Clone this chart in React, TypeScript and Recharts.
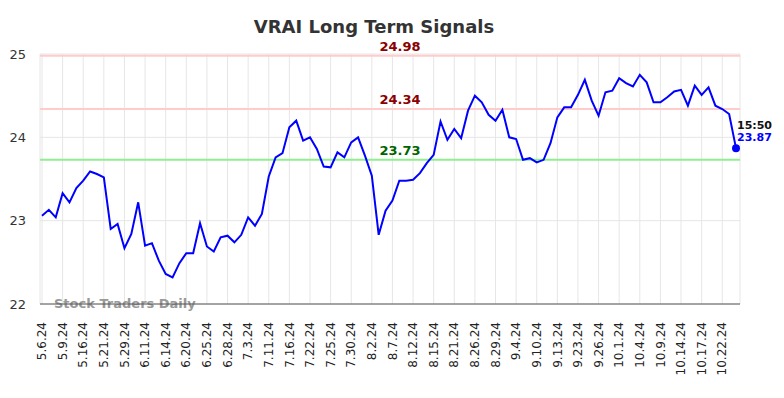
import { LineChart, Line, XAxis, YAxis, CartesianGrid, ReferenceLine } from "recharts"

const TICK_LABELS = [
  "5.6.24", "5.9.24", "5.16.24", "5.21.24", "5.29.24", "6.11.24", "6.14.24", "6.20.24",
  "6.25.24", "6.28.24", "7.3.24", "7.11.24", "7.16.24", "7.22.24", "7.25.24", "7.30.24",
  "8.2.24", "8.7.24", "8.12.24", "8.15.24", "8.21.24", "8.26.24", "8.29.24", "9.4.24",
  "9.10.24", "9.13.24", "9.23.24", "9.26.24", "10.1.24", "10.4.24", "10.9.24", "10.14.24",
  "10.17.24", "10.22.24",
]

// closing prices, one every step along the axis (3 steps per label)
const PRICES = [
  23.06, 23.13, 23.04, 23.33, 23.22, 23.39, 23.48, 23.59, 23.56, 23.52,
  22.90, 22.96, 22.67, 22.84, 23.22, 22.70, 22.73, 22.52, 22.36, 22.32,
  22.49, 22.61, 22.61, 22.97, 22.69, 22.63, 22.80, 22.82, 22.74, 22.83,
  23.04, 22.94, 23.08, 23.53, 23.76, 23.81, 24.12, 24.20, 23.96, 24.00,
  23.86, 23.65, 23.64, 23.82, 23.76, 23.94, 24.00, 23.78, 23.54, 22.83,
  23.12, 23.24, 23.48, 23.48, 23.49, 23.57, 23.69, 23.79, 24.19, 23.97,
  24.10, 23.99, 24.32, 24.50, 24.42, 24.27, 24.20, 24.33, 24.00, 23.98,
  23.73, 23.75, 23.70, 23.73, 23.93, 24.24, 24.36, 24.36, 24.51, 24.69,
  24.44, 24.26, 24.54, 24.56, 24.71, 24.65, 24.61, 24.75, 24.66, 24.42,
  24.42, 24.48, 24.55, 24.57, 24.38, 24.62, 24.51, 24.60, 24.38, 24.34,
  24.28, 23.87,
]

const SIGNALS = [
  { value: 24.98, stroke: "#ffcccc", text: "#8b0000" },
  { value: 24.34, stroke: "#ffcccc", text: "#8b0000" },
  { value: 23.73, stroke: "#90ee90", text: "#006400" },
]

const LAST_TIME = "15:50"

const data = PRICES.map((price, i) => ({ i, price }))
const xTicks = TICK_LABELS.map((_, k) => k * 3)
const last = PRICES.length - 1

const XTick = ({ x, y, payload }: any) => (
  <text
    x={x}
    y={y + 10}
    transform={`rotate(-90, ${x}, ${y + 10})`}
    textAnchor="end"
    dy="0.35em"
    fontSize={12}
    fill="#222"
  >
    {TICK_LABELS[payload.value / 3]}
  </text>
)

const EndDot = (props: any) => {
  const { cx, cy, index } = props
  if (index !== last) return <g key={`d-${index}`} />
  return (
    <g key="end-dot">
      <circle cx={cx} cy={cy} r={4} fill="#0000ff" />
      <text x={cx + 1} y={cy - 19} fontSize={11} fontWeight="bold" fill="#111">{LAST_TIME}</text>
      <text x={cx + 1} y={cy - 7} fontSize={11} fontWeight="bold" fill="#0000ff">{PRICES[last].toFixed(2)}</text>
    </g>
  )
}

export default function App() {
  return (
    <div style={{ position: "absolute", left: 0, top: 0, width: 784, height: 398, background: "#fff", fontFamily: "DejaVu Sans" }}>
      <div style={{ position: "absolute", left: 0, top: 16, width: 748, textAlign: "center", fontSize: 18, fontWeight: "bold", color: "#333" }}>
        VRAI Long Term Signals
      </div>
      <LineChart width={784} height={398} data={data} margin={{ top: 54, right: 44, bottom: 34, left: 0 }}>
        <CartesianGrid stroke="#e6e6e6" />
        <XAxis
          dataKey="i"
          type="number"
          domain={[0, last]}
          ticks={xTicks}
          interval={0}
          padding={{ left: 2, right: 4 }}
          height={60}
          tickLine={false}
          axisLine={{ stroke: "#555", strokeWidth: 1 }}
          tick={<XTick />}
        />
        <YAxis
          domain={[22, 25]}
          ticks={[22, 23, 24, 25]}
          width={40}
          axisLine={false}
          tickLine={false}
          tick={{ fontSize: 13, fill: "#333", dx: -6 }}
        />
        {SIGNALS.map((s) => (
          <ReferenceLine
            key={s.value}
            y={s.value}
            stroke={s.stroke}
            strokeWidth={2}
            label={(p: any) => (
              <text x={400} y={p.viewBox.y - 5} textAnchor="middle" fontSize={13} fontWeight="bold" fill={s.text}>
                {s.value.toFixed(2)}
              </text>
            )}
          />
        ))}
        <text x={54} y={308} fontSize={13} fontWeight="bold" fill="#999">Stock Traders Daily</text>
        <Line
          type="linear"
          dataKey="price"
          stroke="#0000ff"
          strokeWidth={2}
          dot={EndDot}
          activeDot={false}
          isAnimationActive={false}
        />
      </LineChart>
    </div>
  )
}
